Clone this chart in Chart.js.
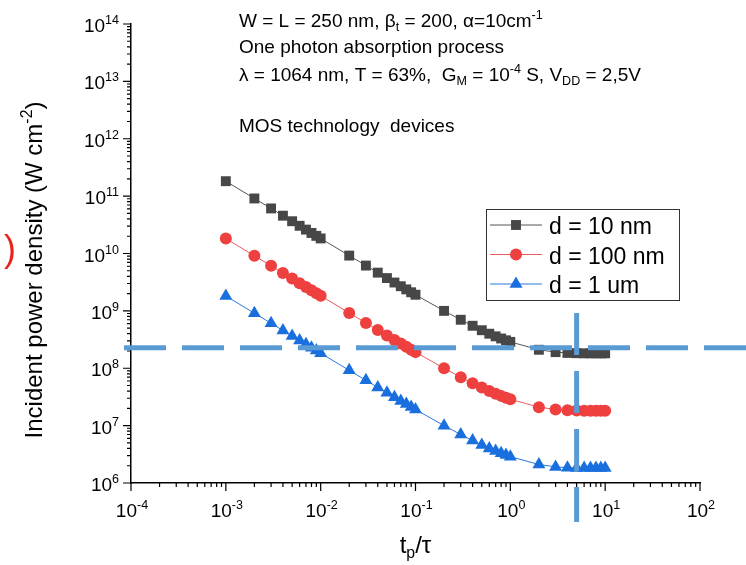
<!DOCTYPE html>
<html>
<head>
<meta charset="utf-8">
<script src="https://cdn.jsdelivr.net/npm/chart.js@4.4.1/dist/chart.umd.min.js"></script>
<style>
  html, body { margin: 0; padding: 0; background: #fff; }
  #wrap { width: 746px; height: 565px; position: relative; }
</style>
</head>
<body>
<div id="wrap"><canvas id="chart"></canvas></div>
<script>
// t_p / tau values (same for every curve)
const tp = [0.001, 0.002, 0.003, 0.004, 0.005, 0.006, 0.007, 0.008, 0.009,
            0.01, 0.02, 0.03, 0.04, 0.05, 0.06, 0.07, 0.08, 0.09,
            0.1, 0.2, 0.3, 0.4, 0.5, 0.6, 0.7, 0.8, 0.9,
            1, 2, 3, 4, 5, 6, 7, 8, 9, 10];

// incident power density (W cm-2)
const d10nm = [1.82e11, 9.1e10, 6.1e10, 4.56e10, 3.65e10, 3.04e10, 2.61e10, 2.28e10, 2.03e10,
               1.83e10, 9.2e9, 6.16e9, 4.64e9, 3.73e9, 3.12e9, 2.69e9, 2.37e9, 2.11e9,
               1.91e9, 1.0e9, 7.0e8, 5.5e8, 4.6e8, 4.0e8, 3.6e8, 3.3e8, 3.07e8,
               2.88e8, 2.1e8, 1.91e8, 1.85e8, 1.83e8, 1.82e8, 1.82e8, 1.82e8, 1.82e8, 1.82e8];
const d100nm = [1.82e10, 9.1e9, 6.1e9, 4.56e9, 3.65e9, 3.04e9, 2.61e9, 2.28e9, 2.03e9,
                1.83e9, 9.2e8, 6.16e8, 4.64e8, 3.73e8, 3.12e8, 2.69e8, 2.37e8, 2.11e8,
                1.91e8, 1.0e8, 7.0e7, 5.5e7, 4.6e7, 4.0e7, 3.6e7, 3.3e7, 3.07e7,
                2.88e7, 2.1e7, 1.91e7, 1.85e7, 1.83e7, 1.82e7, 1.82e7, 1.82e7, 1.82e7, 1.82e7];
const d1um = [1.82e9, 9.1e8, 6.1e8, 4.56e8, 3.65e8, 3.04e8, 2.61e8, 2.28e8, 2.03e8,
              1.83e8, 9.2e7, 6.16e7, 4.64e7, 3.73e7, 3.12e7, 2.69e7, 2.37e7, 2.11e7,
              1.91e7, 1.0e7, 7.0e6, 5.5e6, 4.6e6, 4.0e6, 3.6e6, 3.3e6, 3.07e6,
              2.88e6, 2.1e6, 1.91e6, 1.85e6, 1.83e6, 1.82e6, 1.82e6, 1.82e6, 1.82e6, 1.82e6];

const seriesNames = ['d = 10 nm', 'd = 100 nm', 'd = 1 um'];
const xExponents = [-4, -3, -2, -1, 0, 1, 2];
const yExponents = [6, 7, 8, 9, 10, 11, 12, 13, 14];

// dashed guide lines drawn on top of the data
const guideY = 2.27e8;
const guideX = 5;

const FONT = '"Liberation Sans", Arial, sans-serif';

function toPoints(ys) {
    return tp.map((v, i) => ({ x: v, y: ys[i] }));
}

// draws text made of [string, 'n'|'sup'|'sub'] parts, returns width
function richText(ctx, parts, x, y, size, draw) {
    let cx = x;
    for (const [txt, kind] of parts) {
        let s = size, dy = 0;
        if (kind === 'sup') { s = size * 0.66; dy = -size * 0.42; }
        if (kind === 'sub') { s = size * 0.66; dy = size * 0.22; }
        ctx.font = s + 'px ' + FONT;
        if (draw) ctx.fillText(txt, cx, y + dy);
        cx += ctx.measureText(txt).width;
    }
    return cx - x;
}

const extras = {
    id: 'extras',
    afterDraw(chart) {
        const ctx = chart.ctx;
        const xs = chart.scales.x, ys = chart.scales.y;
        const area = chart.chartArea;
        ctx.save();
        ctx.fillStyle = '#000';
        ctx.strokeStyle = '#000';
        ctx.textBaseline = 'alphabetic';
        ctx.textAlign = 'left';

        // ticks
        ctx.lineWidth = 1.2;
        ctx.beginPath();
        xExponents.forEach((e, i) => {
            const px = xs.getPixelForValue(Math.pow(10, e));
            ctx.moveTo(px, area.bottom); ctx.lineTo(px, area.bottom + 8);
            if (i < xExponents.length - 1) {
                for (let k = 2; k < 10; k++) {
                    const m = xs.getPixelForValue(k * Math.pow(10, e));
                    ctx.moveTo(m, area.bottom); ctx.lineTo(m, area.bottom + 4);
                }
            }
        });
        yExponents.forEach((e, i) => {
            const py = ys.getPixelForValue(Math.pow(10, e));
            ctx.moveTo(area.left, py); ctx.lineTo(area.left - 8, py);
            if (i < yExponents.length - 1) {
                for (let k = 2; k < 10; k++) {
                    const m = ys.getPixelForValue(k * Math.pow(10, e));
                    ctx.moveTo(area.left, m); ctx.lineTo(area.left - 4, m);
                }
            }
        });
        ctx.stroke();

        // tick labels
        xExponents.forEach(e => {
            const px = xs.getPixelForValue(Math.pow(10, e));
            const parts = [['10', 'n'], [String(e), 'sup']];
            const w = richText(ctx, parts, 0, 0, 19, false);
            richText(ctx, parts, px - w / 2 + 1, area.bottom + 34, 19, true);
        });
        yExponents.forEach(e => {
            const py = ys.getPixelForValue(Math.pow(10, e));
            const parts = [['10', 'n'], [String(e), 'sup']];
            const w = richText(ctx, parts, 0, 0, 19, false);
            richText(ctx, parts, area.left - 12 - w, py + 8, 19, true);
        });

        // axis titles
        const xt = [['t', 'n'], ['p', 'sub'], ['/τ', 'n']];
        const xw = richText(ctx, xt, 0, 0, 24, false);
        richText(ctx, xt, (area.left + area.right) / 2 - xw / 2, 553, 24, true);

        const yt = [['Incident power density (W cm', 'n'], ['-2', 'sup'], [')', 'n']];
        const yw = richText(ctx, yt, 0, 0, 24, false);
        ctx.save();
        ctx.translate(42, 270);
        ctx.rotate(-Math.PI / 2);
        richText(ctx, yt, -yw / 2, 0, 24, true);
        ctx.restore();

        // dashed guide lines
        ctx.save();
        ctx.strokeStyle = '#5b9bd5';
        ctx.lineWidth = 5;
        ctx.setLineDash([42, 16]);
        const gy = ys.getPixelForValue(guideY);
        ctx.beginPath();
        ctx.moveTo(area.left - 7, gy); ctx.lineTo(chart.width, gy);
        ctx.stroke();
        const gx = xs.getPixelForValue(guideX);
        ctx.beginPath();
        ctx.moveTo(gx, ys.getPixelForValue(9.2e8)); ctx.lineTo(gx, area.bottom + 39);
        ctx.stroke();
        ctx.restore();

        // legend
        ctx.lineWidth = 1;
        ctx.strokeStyle = '#333';
        ctx.strokeRect(486.5, 209.5, 193, 91);
        chart.data.datasets.forEach((ds, i) => {
            const ry = 225 + i * 29.5;
            ctx.strokeStyle = ds.borderColor;
            ctx.lineWidth = 1;
            ctx.beginPath();
            ctx.moveTo(490, ry); ctx.lineTo(542, ry);
            ctx.stroke();
            ctx.fillStyle = ds.pointBackgroundColor;
            Chart.helpers.drawPoint(ctx, { pointStyle: ds.pointStyle, radius: ds.pointRadius, borderWidth: 0, rotation: 0 }, 516, ry);
            ctx.fillStyle = '#000';
            ctx.font = '23px ' + FONT;
            ctx.fillText(ds.label, 549, ry + 9);
        });

        // parameters text
        ctx.fillStyle = '#000';
        richText(ctx, [['W = L = 250 nm, β', 'n'], ['t', 'sub'], [' = 200, α=10cm', 'n'], ['-1', 'sup']], 239, 27, 19, true);
        richText(ctx, [['One photon absorption process', 'n']], 239, 53, 19, true);
        richText(ctx, [['λ = 1064 nm, T = 63%,  G', 'n'], ['M', 'sub'], [' = 10', 'n'], ['-4', 'sup'],
                       [' S, V', 'n'], ['DD', 'sub'], [' = 2,5V', 'n']], 239, 81, 19, true);
        richText(ctx, [['MOS technology  devices', 'n']], 239, 132, 19, true);

        // clipped label at the left edge
        ctx.fillStyle = '#e8231c';
        ctx.font = '36px ' + FONT;
        ctx.textAlign = 'right';
        ctx.fillText(')', 16, 261);
        ctx.restore();
    }
};

new Chart(document.getElementById('chart'), {
    type: 'line',
    data: {
        datasets: [{
            label: seriesNames[0],
            data: toPoints(d10nm),
            borderColor: '#555555',
            borderWidth: 1,
            pointStyle: 'rect',
            pointRadius: 7,
            pointBackgroundColor: '#474747',
            pointBorderWidth: 0
        }, {
            label: seriesNames[1],
            data: toPoints(d100nm),
            borderColor: '#f05a5a',
            borderWidth: 1,
            pointStyle: 'circle',
            pointRadius: 6,
            pointBackgroundColor: '#ef4040',
            pointBorderWidth: 0
        }, {
            label: seriesNames[2],
            data: toPoints(d1um),
            borderColor: '#2a78e0',
            borderWidth: 1,
            pointStyle: 'triangle',
            pointRadius: 7.5,
            pointBackgroundColor: '#1a6fdf',
            pointBorderWidth: 0
        }]
    },
    options: {
        responsive: true,
        maintainAspectRatio: false,
        animation: false,
        layout: { autoPadding: false, padding: { left: 131, top: 24, right: 46, bottom: 82 } },
        plugins: { legend: { display: false }, tooltip: { enabled: false } },
        scales: {
            x: {
                type: 'logarithmic',
                min: 1e-4, max: 1e2,
                grid: { display: false, drawTicks: false },
                ticks: { display: false },
                border: { color: '#000', width: 1.5 },
                afterFit: s => { s.height = 0; }
            },
            y: {
                type: 'logarithmic',
                min: 1e6, max: 1e14,
                grid: { display: false, drawTicks: false },
                ticks: { display: false },
                border: { color: '#000', width: 1.5 },
                afterFit: s => { s.width = 0; }
            }
        }
    },
    plugins: [extras]
});
</script>
</body>
</html>
